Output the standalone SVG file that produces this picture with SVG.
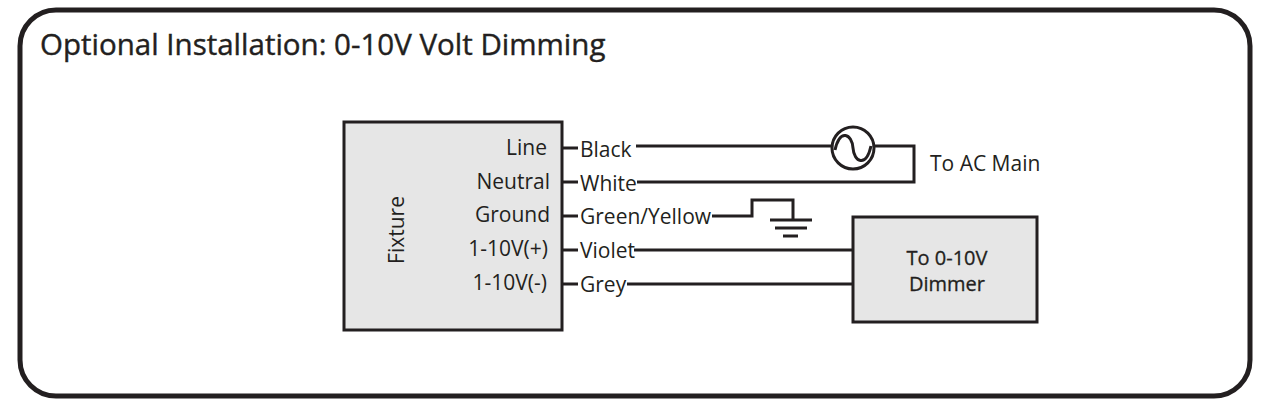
<svg xmlns="http://www.w3.org/2000/svg" width="1268" height="406" viewBox="0 0 1268 406">
<style>
text{font-family:"Open Sans","Liberation Sans",sans-serif;fill:#231f20}
.l{font-size:21px}
.w{stroke:#231f20;stroke-width:3;fill:none}
.box{fill:#e6e6e6;stroke:#231f20;stroke-width:3}
</style>
<rect x="20" y="10" width="1230" height="386" rx="36" fill="#fff" stroke="#231f20" stroke-width="5"/>
<text x="40" y="55" style="font-size:29.5px;stroke:#231f20;stroke-width:0.4">Optional Installation: 0-10V Volt Dimming</text>
<g id="fixture">
<rect class="box" x="344" y="122" width="218" height="208"/>
<text class="l" transform="translate(404,230) rotate(-90)" text-anchor="middle">Fixture</text>
<g text-anchor="end">
<text class="l" x="547" y="155">Line</text>
<text class="l" x="550" y="189">Neutral</text>
<text class="l" x="550" y="222">Ground</text>
<text class="l" x="548" y="256">1-10V(+)</text>
<text class="l" x="547" y="290">1-10V(-)</text>
</g>
</g>
<g id="dimmer">
<rect class="box" x="853" y="217" width="184" height="105"/>
<text x="947" y="265" text-anchor="middle" style="font-size:20px;stroke:#231f20;stroke-width:0.3">To 0-10V</text>
<text x="947" y="291" text-anchor="middle" style="font-size:20px;stroke:#231f20;stroke-width:0.3">Dimmer</text>
</g>
<g id="acmain"><text class="l" x="930" y="171">To AC Main</text></g>
<g id="source"><circle cx="853" cy="148" r="21" fill="#fff" stroke="#231f20" stroke-width="3"/>
<path class="w" d="M835,150 C840,128 852,134 853,148 C854,162 866,168 871,146"/></g>
<g id="ground"><path class="w" d="M770,220H812M775,228H807M783,236H798"/></g>
<g id="connectors">
<path class="w" d="M562,148H578M562,182H578M562,216H578M562,250H578M562,284H578"/>
<path class="w" d="M636,146H832M874,146H914V182H637"/>
<path class="w" d="M712,216H752V200H793V220"/>
<path class="w" d="M634,250H853M627,284H853"/>
</g>
<text class="l" x="580" y="157">Black</text>
<text class="l" x="580" y="191">White</text>
<text class="l" x="580" y="224">Green/Yellow</text>
<text class="l" x="580" y="258">Violet</text>
<text class="l" x="580" y="292">Grey</text>
</svg>
